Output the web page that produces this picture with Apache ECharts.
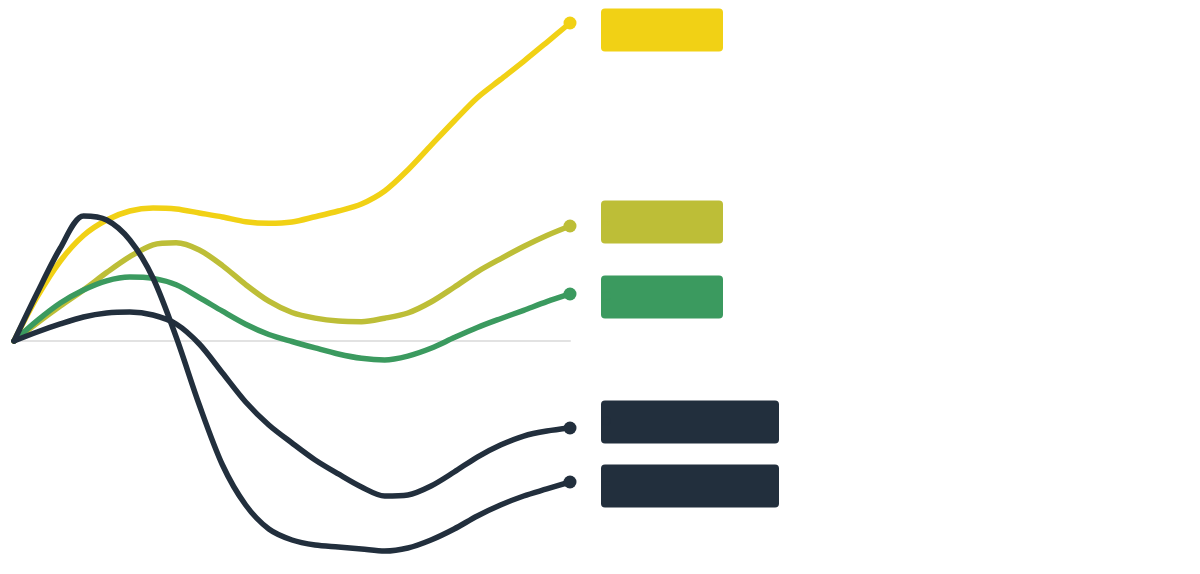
<!DOCTYPE html>
<html>
<head>
<meta charset="utf-8">
<script src="https://cdn.jsdelivr.net/npm/echarts@6/dist/echarts.min.js"></script>
<style>html,body{margin:0;padding:0;background:#fff}#c{width:1200px;height:574px}</style>
</head>
<body>
<div id="c"></div>
<script>
const categories = ['1','2','3','4','5','6','7','8','9','10','11','12','13','14','15','16','17','18','19','20','21','22','23','24','25'];
const seriesNames = ['A', 'B', 'C', 'D', 'E'];
const yellowValues = [0, 14.67, 26.67, 35.17, 40.33, 43.33, 44.33, 44, 42.67, 41.33, 39.77, 39.23, 39.67, 41.43, 43.33, 45.67, 50, 57, 65.2, 73.33, 81.1, 87.17, 93.23, 99.57, 106];
const oliveValues = [0, 6, 11.67, 17, 22.8, 28.1, 32.07, 32.73, 30.33, 25.13, 18.8, 13.27, 9.5, 7.63, 6.63, 6.43, 7.6, 9.33, 13, 17.93, 23.07, 27.4, 31.5, 35.17, 38.33];
const greenValues = [0, 6.8, 12.67, 17, 20.07, 21.33, 20.87, 18.73, 14.47, 9.93, 5.6, 2.17, -0.17, -2.3, -4.33, -5.77, -6.33, -5.03, -2.43, 1.13, 4.5, 7.43, 10.23, 13.1, 15.67];
const dark2Values = [0, 3, 5.67, 8, 9.33, 9.67, 8.67, 5.67, -1, -10.67, -20.33, -28, -34, -39.67, -44.33, -48.67, -51.67, -51.33, -48.33, -43.67, -38.67, -34.67, -31.67, -30, -29];
const dark1Values = [0, 16, 31, 41.67, 40.33, 33.67, 21, 1.33, -21.33, -41.33, -54.67, -62.67, -66.33, -68, -68.67, -69.33, -70, -69, -66.33, -62.67, -58.33, -54.67, -51.67, -49.33, -47];

const colors = ['#f1d115', '#bdbe37', '#3b9a5f', '#222f3d', '#222f3d'];
const labelWidths = [122, 122, 122, 178, 178];
const labelOffsets = [7, -4, 3, -6, 4];
const allValues = [yellowValues, oliveValues, greenValues, dark2Values, dark1Values];

const chart = echarts.init(document.getElementById('c'), null, {renderer: 'canvas'});
const series = allValues.map((vals, i) => ({
  name: seriesNames[i],
  type: 'line',
  data: vals,
  smooth: 0.3,
  clip: false,
  symbol: (v, p) => p.dataIndex === vals.length - 1 ? 'circle' : 'none',
  symbolSize: 13,
  showSymbol: true,
  lineStyle: {width: 5.5, color: colors[i], cap: 'round', join: 'round'},
  itemStyle: {color: colors[i]},
  emphasis: {disabled: true},
  endLabel: {
    show: true,
    distance: 31,
    offset: [0, labelOffsets[i]],
    formatter: () => seriesNames[i],
    color: colors[i],
    backgroundColor: colors[i],
    borderRadius: 4,
    width: labelWidths[i],
    height: 43,
    lineHeight: 43,
    padding: 0,
    fontSize: 14
  }
}));

chart.setOption({
  animation: false,
  grid: {left: 14, right: 630, top: 11, bottom: 8, containLabel: false},
  xAxis: {
    type: 'category',
    data: categories,
    boundaryGap: false,
    axisLine: {show: true, lineStyle: {color: '#e2e2e2', width: 2}},
    axisTick: {show: false},
    axisLabel: {show: false},
    splitLine: {show: false}
  },
  yAxis: {
    type: 'value',
    min: -75,
    max: 110,
    show: false,
    splitLine: {show: false}
  },
  series: series
});
</script>
</body>
</html>
